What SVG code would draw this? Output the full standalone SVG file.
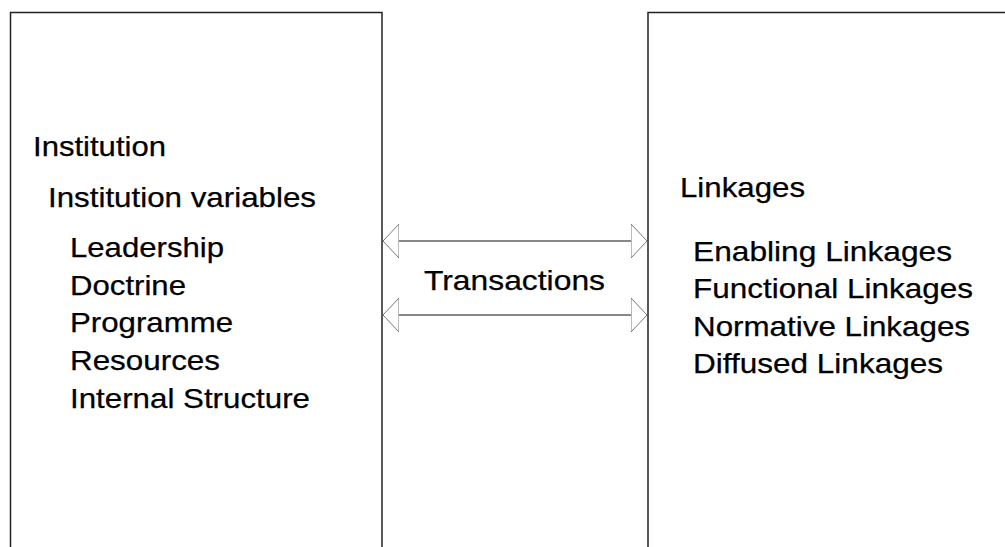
<svg xmlns="http://www.w3.org/2000/svg" width="1005" height="547" viewBox="0 0 1005 547">
<style>
.box{fill:#fff;stroke:#222;stroke-width:1.5}
.t{font-family:"Liberation Sans",Arial,sans-serif;font-size:28px;fill:#000;stroke:#000;stroke-width:0.25}
.shaft{stroke:#111;stroke-width:1.2;fill:none}
</style>
<defs>
<marker id="head" viewBox="0 -18 17 36" markerUnits="userSpaceOnUse" markerWidth="17" markerHeight="36" refX="16" refY="0" orient="auto-start-reverse">
<path d="M16,0 L0,-17 L0,17 Z" fill="#fff" stroke="#777" stroke-width="1"/>
</marker>
</defs>
<rect width="1005" height="547" fill="#fff"/>
<g id="institution">
<rect class="box" x="10.5" y="12.5" width="371.5" height="560"/>
<text class="t" x="33" y="156" textLength="133" lengthAdjust="spacingAndGlyphs">Institution</text>
<text class="t" x="48" y="207" textLength="268" lengthAdjust="spacingAndGlyphs">Institution variables</text>
<text class="t" x="70" y="257" textLength="154" lengthAdjust="spacingAndGlyphs">Leadership</text>
<text class="t" x="70" y="295" textLength="116" lengthAdjust="spacingAndGlyphs">Doctrine</text>
<text class="t" x="70" y="332" textLength="163" lengthAdjust="spacingAndGlyphs">Programme</text>
<text class="t" x="70" y="370" textLength="150" lengthAdjust="spacingAndGlyphs">Resources</text>
<text class="t" x="70" y="408" textLength="240" lengthAdjust="spacingAndGlyphs">Internal Structure</text>
</g>
<g id="linkages">
<rect class="box" x="648" y="12.5" width="400" height="560"/>
<text class="t" x="680" y="197" textLength="125" lengthAdjust="spacingAndGlyphs">Linkages</text>
<text class="t" x="693" y="261" textLength="259" lengthAdjust="spacingAndGlyphs">Enabling Linkages</text>
<text class="t" x="693" y="298" textLength="280" lengthAdjust="spacingAndGlyphs">Functional Linkages</text>
<text class="t" x="693" y="336" textLength="277" lengthAdjust="spacingAndGlyphs">Normative Linkages</text>
<text class="t" x="693" y="373" textLength="250" lengthAdjust="spacingAndGlyphs">Diffused Linkages</text>
</g>
<g id="connectors">
<line class="shaft" x1="383" y1="241" x2="647" y2="241" marker-start="url(#head)" marker-end="url(#head)"/>
<line class="shaft" x1="383" y1="315" x2="647" y2="315" marker-start="url(#head)" marker-end="url(#head)"/>
<text class="t" x="424" y="290" textLength="181" lengthAdjust="spacingAndGlyphs">Transactions</text>
</g>
</svg>
